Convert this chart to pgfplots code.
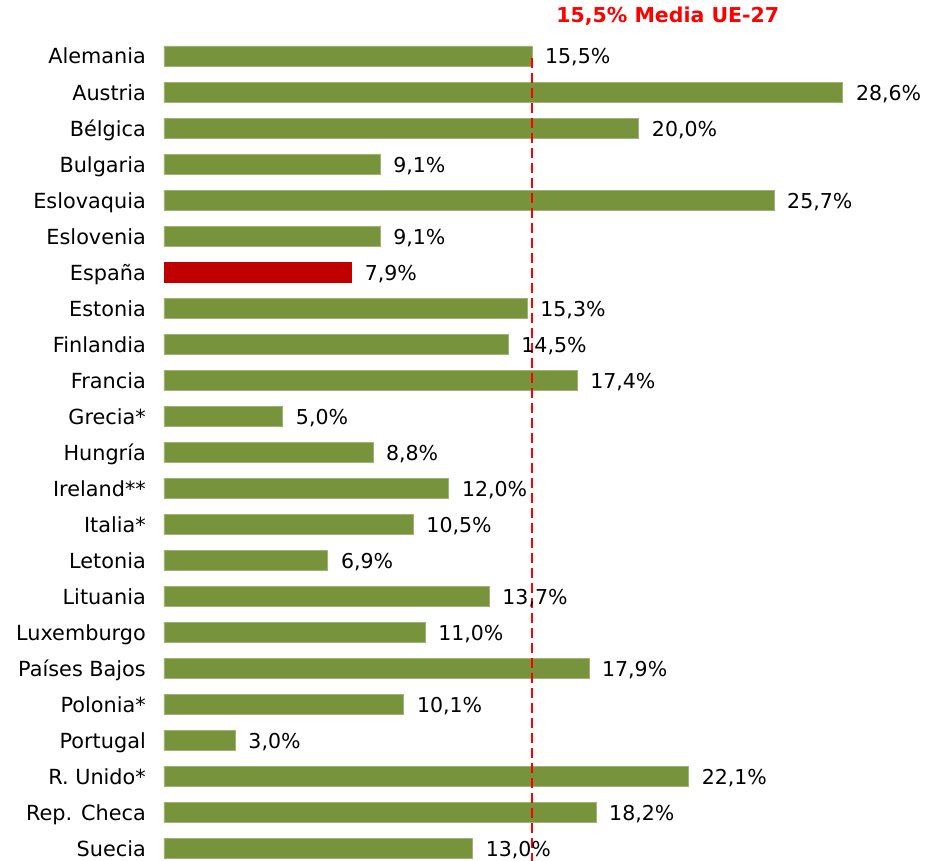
\documentclass[border=0pt]{standalone}
\usepackage{pgfplots}
\pgfplotsset{compat=1.18}
\usepackage{fontspec}
\setmainfont{DejaVu Sans}
\definecolor{barg}{HTML}{77933C}
\definecolor{barr}{HTML}{C00000}
\begin{document}
\begin{tikzpicture}[x=1pt,y=1pt]
\path[use as bounding box] (-164,5) rectangle (774,866);
\begin{axis}[
  at={(0,0)}, anchor=south west,
  scale only axis, width=712pt, height=828pt,
  xmin=0, xmax=30, ymin=-0.5, ymax=22.5,
  y dir=reverse,
  axis x line=none,
  axis y line*=left,
  y axis line style={draw=none},
  major tick length=0pt,
  clip=false,
  xtick=\empty,
  ytick={0,...,22},
  yticklabels={Alemania,Austria,Bélgica,Bulgaria,Eslovaquia,Eslovenia,España,Estonia,Finlandia,Francia,Grecia*,Hungría,Ireland**,Italia*,Letonia,Lituania,Luxemburgo,Países Bajos,Polonia*,Portugal,R. Unido*,Rep. Checa,Suecia},
  yticklabel style={anchor=east, inner sep=0pt, xshift=-18pt, yshift=-2.5pt, text height=15.5pt, text depth=4.5pt, font=\fontsize{20.8}{24}\selectfont},
]
\addplot[xbar, bar width=20pt, bar shift=0pt, fill=barg, draw=barg!70!white, line width=0.6pt,
  nodes near coords, point meta=explicit symbolic,
  every node near coord/.style={anchor=west, inner sep=0pt, xshift=13pt, yshift=-2.5pt, text height=15.5pt, text depth=4.5pt, font=\fontsize{20.5}{24}\selectfont, text=black}] coordinates {
(15.5,0) [15,5\%]
(28.6,1) [28,6\%]
(20.0,2) [20,0\%]
(9.1,3) [9,1\%]
(25.7,4) [25,7\%]
(9.1,5) [9,1\%]
(15.3,7) [15,3\%]
(14.5,8) [14,5\%]
(17.4,9) [17,4\%]
(5.0,10) [5,0\%]
(8.8,11) [8,8\%]
(12.0,12) [12,0\%]
(10.5,13) [10,5\%]
(6.9,14) [6,9\%]
(13.7,15) [13,7\%]
(11.0,16) [11,0\%]
(17.9,17) [17,9\%]
(10.1,18) [10,1\%]
(3.0,19) [3,0\%]
(22.1,20) [22,1\%]
(18.2,21) [18,2\%]
(13.0,22) [13,0\%]
};
\addplot[xbar, bar width=20pt, bar shift=0pt, fill=barr, draw=barr, line width=0.6pt,
  nodes near coords, point meta=explicit symbolic,
  every node near coord/.style={anchor=west, inner sep=0pt, xshift=13pt, yshift=-2.5pt, text height=15.5pt, text depth=4.5pt, font=\fontsize{20.5}{24}\selectfont, text=black}] coordinates {(7.9,6) [7,9\%]};
\addplot[color=red, line width=1.6pt, dash pattern=on 10pt off 5pt, mark=none] coordinates {(15.5,0.05) (15.5,22.6)};
\node[anchor=base west, text=red, inner sep=0pt, font=\bfseries\fontsize{20.5}{24}\selectfont] at (axis cs:16.52,-0.92) {15,5\% Media UE-27};
\end{axis}
\end{tikzpicture}
\end{document}
